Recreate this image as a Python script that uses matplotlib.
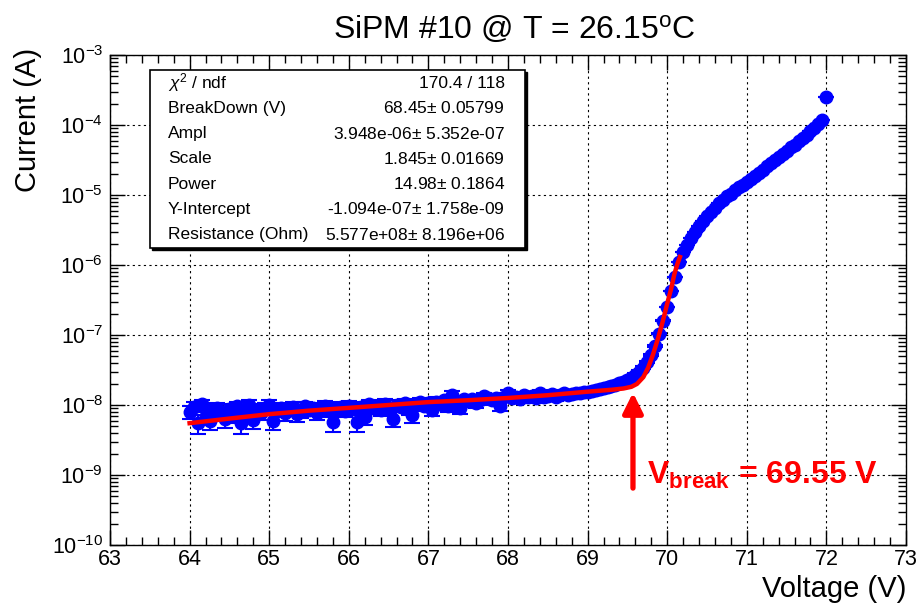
import numpy as np
import matplotlib
matplotlib.use("Agg")
import matplotlib.pyplot as plt
from matplotlib.patches import Rectangle
from matplotlib.ticker import LogLocator, MultipleLocator, NullFormatter

plt.rcParams['font.family'] = ['Liberation Sans', 'DejaVu Sans']
plt.rcParams['mathtext.fontset'] = 'custom'
plt.rcParams['mathtext.rm'] = 'Liberation Sans'
plt.rcParams['mathtext.it'] = 'Liberation Sans:italic'
plt.rcParams['mathtext.bf'] = 'Liberation Sans:bold'

# measured I-V points (V, nA below 69.5 V, A above)
voltage = [
    64.00, 64.05, 64.10, 64.15, 64.20, 64.25, 64.30, 64.35, 64.40, 64.45,
    64.50, 64.55, 64.60, 64.65, 64.70, 64.75, 64.80, 64.85, 64.90, 64.95,
    65.00, 65.05, 65.10, 65.15, 65.20, 65.25, 65.30, 65.35, 65.40, 65.45,
    65.50, 65.55, 65.60, 65.65, 65.70, 65.75, 65.80, 65.85, 65.90, 65.95,
    66.00, 66.05, 66.10, 66.15, 66.20, 66.25, 66.30, 66.35, 66.40, 66.45,
    66.50, 66.55, 66.60, 66.65, 66.70, 66.75, 66.80, 66.85, 66.90, 66.95,
    67.00, 67.05, 67.10, 67.15, 67.20, 67.25, 67.30, 67.35, 67.40, 67.45,
    67.50, 67.55, 67.60, 67.65, 67.70, 67.75, 67.80, 67.85, 67.90, 67.95,
    68.00, 68.05, 68.10, 68.15, 68.20, 68.25, 68.30, 68.35, 68.40, 68.45,
    68.50, 68.55, 68.60, 68.65, 68.70, 68.75, 68.80, 68.85, 68.90, 68.95,
    69.00, 69.05, 69.10, 69.15, 69.20, 69.25, 69.30, 69.35, 69.40, 69.45,
    69.50,
    69.55, 69.60, 69.65, 69.70, 69.75, 69.80, 69.85, 69.90, 69.95, 70.00,
    70.05, 70.10, 70.15, 70.20, 70.25, 70.30, 70.35, 70.40, 70.45, 70.50,
    70.55, 70.60, 70.65, 70.70, 70.75, 70.80, 70.85, 70.90, 70.95, 71.00,
    71.05, 71.10, 71.15, 71.20, 71.25, 71.30, 71.35, 71.40, 71.45, 71.50,
    71.55, 71.60, 71.65, 71.70, 71.75, 71.80, 71.85, 71.90, 71.95, 72.00,
]

current_low_nA = [
    8.0, 9.5, 5.5, 10.2, 7.0, 6.0, 8.5, 9.0, 7.5, 6.3,
    8.8, 7.2, 9.6, 5.5, 8.0, 10.0, 6.2, 8.6, 7.8, 9.2,
    10.0, 6.0, 8.4, 9.0, 7.6, 8.8, 9.4, 7.4, 8.2, 9.6,
    8.6, 9.2, 7.8, 8.9, 9.8, 8.4, 5.7, 9.0, 9.5, 8.3,
    9.8, 8.8, 5.7, 9.4, 6.7, 10.2, 9.0, 9.6, 8.6, 10.4,
    9.2, 6.4, 10.0, 9.5, 10.6, 8.8, 7.2, 10.2, 11.0, 9.8,
    10.8, 8.6, 11.2, 10.4, 11.6, 9.6, 14.0, 11.0, 9.0, 12.0,
    11.4, 12.2, 10.8, 11.8, 13.4, 12.4, 11.6, 12.6, 9.8, 13.0,
    15.0, 12.6, 13.2, 12.2, 13.8, 12.8, 13.4, 12.4, 14.8, 13.0,
    13.6, 14.2, 13.0, 14.0, 14.6, 13.8, 14.4, 15.0, 14.6, 15.2,
    15.5, 16.0, 16.5, 17.0, 17.5, 18.0, 18.5, 19.5, 20.5, 21.5,
    22.5,
]

current_high_A = [
    2.40e-8, 2.70e-8, 3.00e-8, 3.40e-8, 4.10e-8, 5.20e-8, 7.00e-8, 1.05e-7, 1.60e-7, 2.50e-7,
    4.20e-7, 6.80e-7, 1.10e-6, 1.55e-6, 1.95e-6, 2.40e-6, 2.95e-6, 3.55e-6, 4.27e-6, 5.01e-6,
    5.75e-6, 6.61e-6, 7.59e-6, 8.51e-6, 9.55e-6, 1.05e-5, 1.17e-5, 1.29e-5, 1.41e-5, 1.55e-5,
    1.70e-5, 1.86e-5, 2.09e-5, 2.29e-5, 2.57e-5, 2.82e-5, 3.16e-5, 3.47e-5, 3.89e-5, 4.27e-5,
    4.79e-5, 5.25e-5, 5.89e-5, 6.61e-5, 7.24e-5, 8.13e-5, 9.12e-5, 1.02e-4, 1.17e-4, 2.51e-4,
]

current_err_nA = 1.6

# fit curve
fit_v = [64.0, 64.5, 65.0, 65.5, 66.0, 66.5, 67.0, 67.5, 68.0, 68.5, 69.0, 69.3,
         69.45, 69.55, 69.62, 69.7, 69.76, 69.82, 69.88, 69.94, 70.0, 70.05,
         70.09, 70.13, 70.16]
fit_i = [5.5e-9, 6.4e-9, 7.4e-9, 8.3e-9, 9.1e-9, 1.0e-8, 1.1e-8, 1.17e-8, 1.26e-8, 1.38e-8,
         1.55e-8, 1.65e-8, 1.72e-8, 1.82e-8, 2.0e-8, 2.5e-8, 3.4e-8, 5.2e-8, 8.6e-8,
         1.5e-7, 2.8e-7, 4.6e-7, 7.4e-7, 1.05e-6, 1.3e-6]

stat_names = [r"$\chi^{2}$ / ndf", "BreakDown (V)", "Ampl", "Scale", "Power",
              "Y-Intercept", "Resistance (Ohm)"]
stat_values = ["170.4 / 118", "68.45$\\pm$ 0.05799", "3.948e-06$\\pm$ 5.352e-07",
               "1.845$\\pm$ 0.01669", "14.98$\\pm$ 0.1864", "-1.094e-07$\\pm$ 1.758e-09",
               "5.577e+08$\\pm$ 8.196e+06"]

v_break = 69.57
break_label = "69.55"

V = np.array(voltage)
I = np.concatenate([np.array(current_low_nA) * 1e-9, np.array(current_high_A)])
err = np.full(len(I), current_err_nA * 1e-9)

W, H = 918, 608
fig = plt.figure(figsize=(W / 100, H / 100), dpi=100)
ax = fig.add_axes([110 / W, 1 - 545 / H, (906 - 110) / W, (545 - 55) / H])

ax.errorbar(V, I, yerr=err, fmt='o', color='blue', ms=9, mec='blue',
            elinewidth=1.5, capsize=6, capthick=1.5, zorder=3)
ax.plot(fit_v, fit_i, color='red', lw=3.2, zorder=4)

ax.set_yscale('log')
ax.set_xlim(63, 73)
ax.set_ylim(1e-10, 1e-3)
ax.xaxis.set_major_locator(MultipleLocator(1))
ax.xaxis.set_minor_locator(MultipleLocator(0.2))
ax.yaxis.set_major_locator(LogLocator(base=10, numticks=20))
ax.yaxis.set_minor_locator(LogLocator(base=10, subs=np.arange(2, 10), numticks=20))
ax.yaxis.set_minor_formatter(NullFormatter())
ax.tick_params(which='both', direction='in', top=True, right=True, labelsize=15.5)
ax.tick_params(which='major', length=11, width=1)
ax.tick_params(which='minor', length=6, width=1)
ax.tick_params(axis='x', pad=3)
ax.tick_params(axis='y', pad=5)
ax.grid(True, which='major', color='black', ls=(0, (2, 3)), lw=0.8)
for s in ax.spines.values():
    s.set_linewidth(1)

fig.text(906 / W, 1 - 589 / H, "Voltage (V)", fontsize=21, ha='right', va='center')
fig.text(28 / W, 1 - 48 / H, "Current (A)", fontsize=21, ha='center', va='top', rotation=90)
fig.text(514 / W, 1 - 30 / H, r"SiPM #10 @ T = 26.15$^{\mathrm{o}}$C",
         fontsize=23, ha='center', va='center')

# breakdown arrow + label
ax.annotate("", xy=(v_break, 1.5e-8), xytext=(v_break, 6.5e-10),
            arrowprops=dict(arrowstyle='-|>,head_length=1.2,head_width=0.6',
                            color='red', lw=3.8, shrinkA=0, shrinkB=0), zorder=5)
ax.text(69.75, 7.5e-10, r"$\mathbf{V_{break}}$ = " + break_label + " V", color='red',
        fontsize=23, fontweight='bold', ha='left', va='baseline', zorder=5)

# stats box
bx0, by0, bx1, by1 = 150, 70, 525, 248
fig.patches.append(Rectangle((bx0 / W + 2 / W, 1 - by1 / H - 2 / H), (bx1 - bx0) / W, (by1 - by0) / H,
                             transform=fig.transFigure, facecolor='black', edgecolor='black', zorder=9))
fig.patches.append(Rectangle((bx0 / W, 1 - by1 / H), (bx1 - bx0) / W, (by1 - by0) / H,
                             transform=fig.transFigure, facecolor='white', edgecolor='black',
                             lw=1.2, zorder=10))
for k, (n, v) in enumerate(zip(stat_names, stat_values)):
    yy = 1 - (83 + 25.3 * k) / H
    fig.text(168 / W, yy, n, fontsize=12.5, ha='left', va='center', zorder=11)
    fig.text(505 / W, yy, v, fontsize=12.5, ha='right', va='center', zorder=11)

fig.savefig("out.png", dpi=100)
